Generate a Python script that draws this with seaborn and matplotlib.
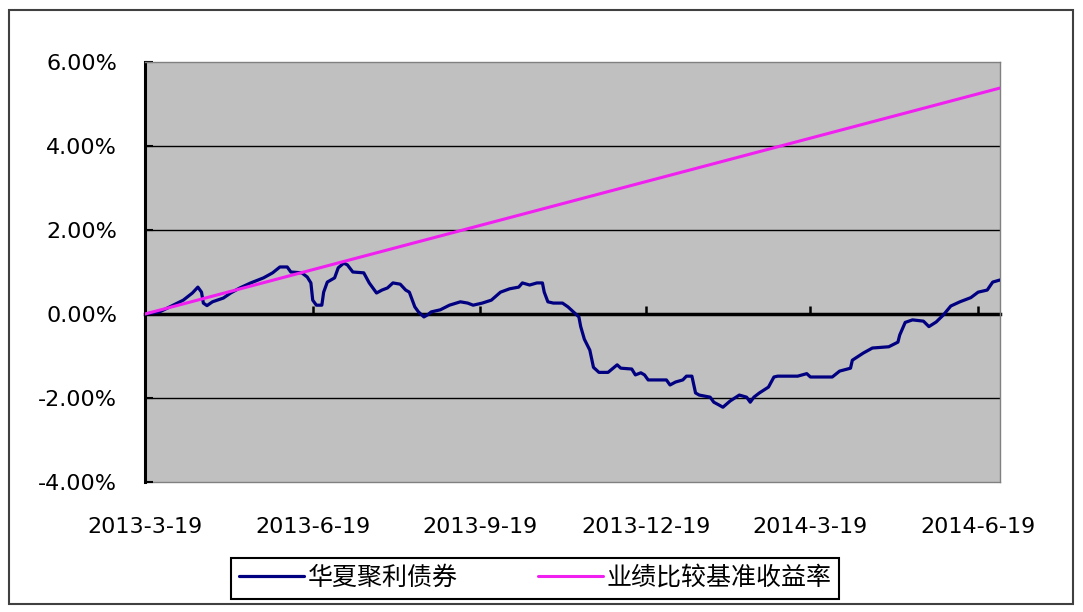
import matplotlib
matplotlib.use('Agg')
import matplotlib.pyplot as plt
from matplotlib.patches import Rectangle
import pandas as pd
import seaborn as sns


# DATA (returns in %, days counted from 2013-3-19)

start_date = '2013-03-19'

fund_days = [0, 8, 15, 21, 26, 29, 31, 32, 34, 37, 43, 47, 52, 58, 65, 70, 74, 78, 80, 86,
             89, 91, 92, 94, 97, 98, 100, 104, 106, 109, 111, 114, 120, 123, 127, 130, 133,
             136, 140, 143, 145, 148, 150, 153, 155, 157, 162, 167, 173, 177, 180, 185, 190,
             195, 200, 205, 207, 211, 215, 218, 219, 221, 224, 229, 232, 235, 238, 239, 241,
             244, 246, 249, 254, 259, 261, 267, 269, 272, 274, 276, 286, 288, 291, 295, 297,
             300, 302, 304, 310, 312, 315, 317, 321, 326, 330, 332, 334, 337, 342, 345, 347,
             358, 363, 365, 377, 381, 387, 388, 394, 399, 408, 413, 414, 417, 421, 427, 430,
             434, 438, 442, 447, 453, 457, 462, 465, 469]
fund_ret = [0.0, 0.05, 0.2, 0.33, 0.5, 0.64, 0.52, 0.26, 0.2, 0.29, 0.38, 0.5, 0.62, 0.74,
            0.86, 0.98, 1.12, 1.12, 1.0, 0.98, 0.88, 0.74, 0.33, 0.21, 0.21, 0.52, 0.76, 0.86,
            1.1, 1.21, 1.17, 1.0, 0.98, 0.74, 0.5, 0.57, 0.62, 0.74, 0.71, 0.57, 0.52, 0.17,
            0.05, -0.07, -0.02, 0.05, 0.1, 0.21, 0.29, 0.26, 0.21, 0.26, 0.33, 0.52, 0.6, 0.64,
            0.74, 0.69, 0.74, 0.74, 0.52, 0.29, 0.26, 0.26, 0.17, 0.05, -0.07, -0.3, -0.6,
            -0.86, -1.27, -1.39, -1.39, -1.21, -1.29, -1.31, -1.45, -1.4, -1.45, -1.57, -1.57,
            -1.69, -1.62, -1.57, -1.48, -1.48, -1.88, -1.93, -1.98, -2.1, -2.17, -2.22, -2.07,
            -1.93, -1.98, -2.1, -1.98, -1.88, -1.74, -1.5, -1.48, -1.48, -1.42, -1.5, -1.5,
            -1.36, -1.29, -1.1, -0.93, -0.81, -0.78, -0.67, -0.5, -0.2, -0.14, -0.17, -0.3,
            -0.19, -0.02, 0.19, 0.29, 0.39, 0.52, 0.57, 0.76, 0.81]

bench_days = [0, 469]
bench_ret = [0.0, 5.38]

series_names = ['华夏聚利债券', '业绩比较基准收益率']
tick_dates = ['2013-03-19', '2013-06-19', '2013-09-19', '2013-12-19', '2014-03-19', '2014-06-19']
tick_labels = ['2013-3-19', '2013-6-19', '2013-9-19', '2013-12-19', '2014-3-19', '2014-6-19']
y_ticks = [6, 4, 2, 0, -2, -4]


# PLOT

sns.set_theme(style='white', rc={'text.color': 'black', 'xtick.color': 'black',
                                  'ytick.color': 'black', 'axes.labelcolor': 'black'})
plt.rcParams['font.family'] = ['DejaVu Sans', 'Noto Sans CJK SC']

t0 = pd.Timestamp(start_date)
fund = pd.DataFrame({'date': t0 + pd.to_timedelta(fund_days, unit='D'), 'ret': fund_ret})
bench = pd.DataFrame({'date': t0 + pd.to_timedelta(bench_days, unit='D'), 'ret': bench_ret})

fig = plt.figure(figsize=(10.83, 6.12), dpi=100)
ax = fig.add_axes([145 / 1083, 130 / 612, 855 / 1083, 420 / 612])
ax.set_facecolor('#C0C0C0')

# grid lines inside the plot area
for level in y_ticks[1:-1]:
    if level != 0:
        ax.axhline(level, color='black', lw=1, zorder=1)

sns.lineplot(data=fund, x='date', y='ret', color='#000080', lw=2.3, ax=ax,
             label=series_names[0], legend=False, zorder=3)
sns.lineplot(data=bench, x='date', y='ret', color='#F020F0', lw=2.2, ax=ax,
             label=series_names[1], legend=False, zorder=4)

ax.set_xlim(fund['date'].iloc[0], fund['date'].iloc[-1])
ax.set_ylim(-4, 6)
ax.set_xlabel('')
ax.set_ylabel('')

ax.set_yticks(y_ticks)
ax.set_yticklabels([f'{v:.2f}%' for v in y_ticks])
ax.tick_params(axis='y', direction='in', length=6, width=1.5, color='black',
               labelsize=16, pad=20, left=True)

# x axis line sits on zero, labels go at the bottom
ticks = pd.to_datetime(tick_dates)
ax.spines['bottom'].set_position(('data', 0))
ax.spines['bottom'].set_color('black')
ax.spines['bottom'].set_linewidth(2.5)
ax.spines['bottom'].set_zorder(2)
ax.set_xticks(ticks)
ax.tick_params(axis='x', direction='in', length=6, width=1.8, color='black',
               labelbottom=False, bottom=True)

ax.spines['left'].set_color('black')
ax.spines['left'].set_linewidth(2.2)
for side in ['top', 'right']:
    ax.spines[side].set_color('#808080')
    ax.spines[side].set_linewidth(1)

sec = ax.secondary_xaxis('bottom')
sec.set_xticks(ticks)
sec.set_xticklabels(tick_labels)
sec.tick_params(axis='x', length=0, labelsize=16, pad=25)
sec.spines['bottom'].set_color('#808080')
sec.spines['bottom'].set_linewidth(1)

handles, labels = ax.get_legend_handles_labels()
leg = fig.legend(handles, labels, loc='center', bbox_to_anchor=(535 / 1083, 34 / 612),
                 ncol=2, frameon=True, fancybox=False, framealpha=1, edgecolor='black',
                 prop={'family': ['Noto Sans CJK SC'], 'size': 18}, handlelength=2.6,
                 handletextpad=0.15, columnspacing=3.2, borderpad=0.3, borderaxespad=0)
leg.get_frame().set_linewidth(1.5)

# outer chart border
fig.patches.append(Rectangle((9 / 1083, 8 / 612), 1064 / 1083, 594 / 612, transform=fig.transFigure,
                             fill=False, edgecolor='#404040', lw=1.5))

plt.savefig('out.png', dpi=100)
